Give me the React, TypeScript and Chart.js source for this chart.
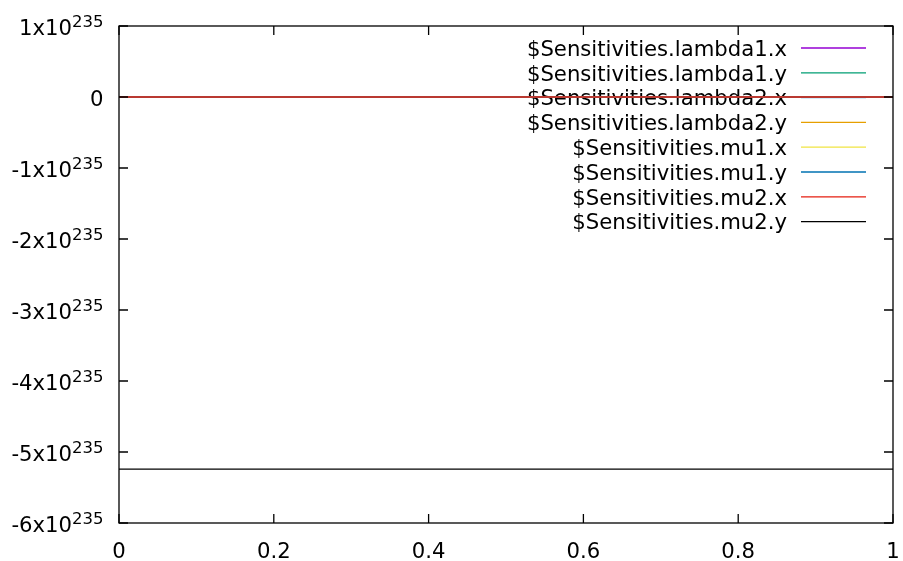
import React, { useEffect, useRef } from 'react';
import { Chart, registerables } from 'chart.js';

Chart.register(...registerables);

// ---- data ----
const xValues = [0, 0.25, 0.5, 0.75, 1];
const lambda1x = [0, 0, 0, 0, 0];
const lambda1y = [0, 0, 0, 0, 0];
const lambda2x = [0, 0, 0, 0, 0];
const lambda2y = [0, 0, 0, 0, 0];
const mu1x = [0, 0, 0, 0, 0];
const mu1y = [0, 0, 0, 0, 0];
const mu2x = [0, 0, 0, 0, 0];
const mu2y = [-5.24e235, -5.24e235, -5.24e235, -5.24e235, -5.24e235];

const seriesNames = [
  '$Sensitivities.lambda1.x',
  '$Sensitivities.lambda1.y',
  '$Sensitivities.lambda2.x',
  '$Sensitivities.lambda2.y',
  '$Sensitivities.mu1.x',
  '$Sensitivities.mu1.y',
  '$Sensitivities.mu2.x',
  '$Sensitivities.mu2.y',
];
const seriesValues = [lambda1x, lambda1y, lambda2x, lambda2y, mu1x, mu1y, mu2x, mu2y];
const seriesColors = ['#9400D3', '#009E73', '#56B4E9', '#E69F00', '#F0E442', '#0072B2', '#E51E10', '#000000'];

const xTickValues = [0, 0.2, 0.4, 0.6, 0.8, 1];
const xTickLabels = ['0', '0.2', '0.4', '0.6', '0.8', '1'];
const yTickValues = [-6e235, -5e235, -4e235, -3e235, -2e235, -1e235, 0, 1e235];
const yTickBase = ['-6x10', '-5x10', '-4x10', '-3x10', '-2x10', '-1x10', '0', '1x10'];
const yTickSup = ['235', '235', '235', '235', '235', '235', '', '235'];

const FONT = "'DejaVu Sans', sans-serif";
const BASE_SIZE = 21.2;
const SUP_SIZE = 16.5;
const TICK_LEN = 9;

const gnuplotFrame = {
  id: 'gnuplotFrame',
  beforeDatasetsDraw(chart: any) {
    const ctx = chart.ctx;
    const area = chart.chartArea;
    ctx.save();
    ctx.font = `${BASE_SIZE}px ${FONT}`;
    ctx.textAlign = 'right';
    ctx.textBaseline = 'alphabetic';
    const textRight = area.right - 106;
    const lineStart = area.right - 92;
    const lineEnd = area.right - 27;
    const firstRow = area.top + 22;
    const rowStep = 24.8;
    chart.data.datasets.forEach((ds: any, i: number) => {
      const y = firstRow + i * rowStep;
      ctx.fillStyle = '#000';
      ctx.fillText(ds.label, textRight, y + 7.8);
      ctx.strokeStyle = ds.borderColor;
      ctx.lineWidth = 1.3;
      ctx.beginPath();
      ctx.moveTo(lineStart, y);
      ctx.lineTo(lineEnd, y);
      ctx.stroke();
    });
    ctx.restore();
  },
  afterDatasetsDraw(chart: any) {
    const ctx = chart.ctx;
    const area = chart.chartArea;
    const xs = chart.scales.x;
    const ys = chart.scales.y;
    ctx.save();
    ctx.strokeStyle = '#000';
    ctx.lineWidth = 1.3;
    ctx.strokeRect(area.left, area.top, area.right - area.left, area.bottom - area.top);
    ctx.beginPath();
    xTickValues.forEach((v) => {
      const px = xs.getPixelForValue(v);
      ctx.moveTo(px, area.bottom);
      ctx.lineTo(px, area.bottom - TICK_LEN);
      ctx.moveTo(px, area.top);
      ctx.lineTo(px, area.top + TICK_LEN);
    });
    yTickValues.forEach((v) => {
      const py = ys.getPixelForValue(v);
      ctx.moveTo(area.left, py);
      ctx.lineTo(area.left + TICK_LEN, py);
      ctx.moveTo(area.right, py);
      ctx.lineTo(area.right - TICK_LEN, py);
    });
    ctx.stroke();

    ctx.fillStyle = '#000';
    ctx.textBaseline = 'alphabetic';
    ctx.font = `${BASE_SIZE}px ${FONT}`;
    ctx.textAlign = 'center';
    xTickValues.forEach((v, i) => {
      const px = xs.getPixelForValue(v);
      ctx.fillText(xTickLabels[i], px, area.bottom + 35);
    });

    const labelRight = area.left - 15.5;
    yTickValues.forEach((v, i) => {
      const py = ys.getPixelForValue(v);
      const sup = yTickSup[i];
      ctx.textAlign = 'right';
      let right = labelRight;
      if (sup) {
        ctx.font = `${SUP_SIZE}px ${FONT}`;
        const w = ctx.measureText(sup).width;
        ctx.fillText(sup, labelRight, py + 0.5);
        right = labelRight - w;
      }
      ctx.font = `${BASE_SIZE}px ${FONT}`;
      ctx.fillText(yTickBase[i], right, py + 8.5);
    });
    ctx.restore();
  },
};

export default function App() {
  const canvasRef = useRef<HTMLCanvasElement | null>(null);

  useEffect(() => {
    if (!canvasRef.current) return;
    const datasets = seriesNames.map((name, i) => ({
      label: name,
      data: xValues.map((x, j) => ({ x, y: seriesValues[i][j] })),
      borderColor: seriesColors[i],
      backgroundColor: seriesColors[i],
      borderWidth: 1.3,
      pointRadius: 0,
      fill: false,
      tension: 0,
      order: seriesNames.length - i,
    }));
    const chart = new Chart(canvasRef.current, {
      type: 'line',
      data: { datasets },
      options: {
        animation: false,
        responsive: false,
        devicePixelRatio: 1,
        layout: { padding: { left: 119, right: 10, top: 26, bottom: 38 } },
        plugins: {
          legend: { display: false },
          tooltip: { enabled: false },
        },
        scales: {
          x: { type: 'linear', min: 0, max: 1, display: false },
          y: { type: 'linear', min: -6e235, max: 1e235, display: false },
        },
      },
      plugins: [gnuplotFrame],
    } as any);
    return () => chart.destroy();
  }, []);

  return (
    <div style={{ position: 'fixed', left: 0, top: 0, width: 903, height: 561, background: '#fff' }}>
      <canvas ref={canvasRef} width={903} height={561} style={{ display: 'block' }} />
    </div>
  );
}
